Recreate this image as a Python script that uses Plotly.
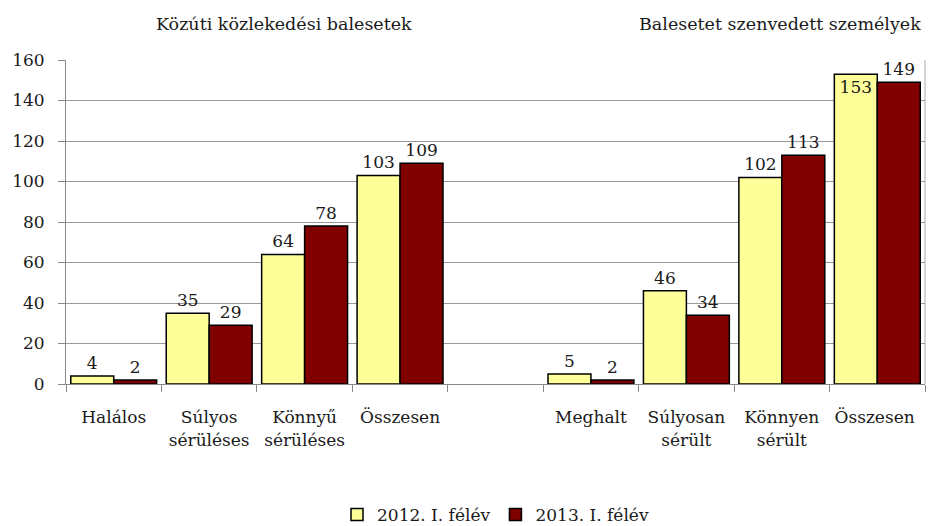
"""
Közúti balesetek, 2012 vs 2013 I. félév
"""
import plotly.graph_objects as go

# category keys must be unique, so the gap and the second "Összesen" differ by spaces
categories = [
    "Halálos", "Súlyos<br>sérüléses", "Könnyű<br>sérüléses", "Összesen",
    " ",
    "Meghalt", "Súlyosan<br>sérült", "Könnyen<br>sérült", "Összesen ",
]
values_2012 = [4, 35, 64, 103, None, 5, 46, 102, 153]
values_2013 = [2, 29, 78, 109, None, 2, 34, 113, 149]
series_names = ["2012. I. félév", "2013. I. félév"]
group_titles = ["Közúti közlekedési balesetek", "Balesetet szenvedett személyek"]

FONT = "DejaVu Serif"
TXT = dict(family=FONT, size=17, color="#1a1a1a")
TITLE = dict(family=FONT, size=17.5, color="#1a1a1a")


def labels(vals):
    return ["" if v is None else str(v) for v in vals]


# 153 sits too close to the top, Excel put it inside the bar
pos_2012 = ["inside" if v == 153 else "outside" for v in values_2012]

fig = go.Figure()
fig.add_trace(go.Bar(
    x=categories, y=values_2012, name=series_names[0],
    marker=dict(color="#FFFF99", line=dict(color="black", width=1.5)),
    text=labels(values_2012), textposition=pos_2012,
    insidetextanchor="end", textfont=TXT, cliponaxis=False,
))
fig.add_trace(go.Bar(
    x=categories, y=values_2013, name=series_names[1],
    marker=dict(color="#800000", line=dict(color="black", width=1.5)),
    text=labels(values_2013), textposition="outside",
    textfont=TXT, cliponaxis=False,
))

# the page body adds an 8px offset, so margins are shifted to compensate
fig.update_layout(
    width=935, height=526,
    margin=dict(l=58, r=18, t=52, b=150, autoexpand=False),
    paper_bgcolor="white", plot_bgcolor="white",
    barmode="group", bargap=0.1, bargroupgap=0,
    font=TXT,
    legend=dict(orientation="h", x=0.5, xanchor="center", y=-0.404, yanchor="middle",
                font=TXT, itemwidth=30),
    annotations=[
        dict(text=group_titles[0], x=0.254, y=1.111, xref="paper", yref="paper",
             xanchor="center", yanchor="middle", showarrow=False, font=TITLE),
        dict(text=group_titles[1], x=0.831, y=1.111, xref="paper", yref="paper",
             xanchor="center", yanchor="middle", showarrow=False, font=TITLE),
    ],
)
fig.update_xaxes(
    type="category", tickson="boundaries", ticks="outside", ticklen=7,
    tickcolor="#888888", showline=True, linecolor="#888888", mirror=False,
    tickfont=TXT, ticklabelstandoff=18, tickangle=0, automargin=False,
)
fig.update_yaxes(
    range=[0, 160], dtick=20, ticks="outside", ticklen=7, tickcolor="#888888",
    showline=True, linecolor="#888888", gridcolor="#999999", gridwidth=1,
    tickfont=TXT, ticklabelstandoff=10, zeroline=False, automargin=False,
)
# right border of the plot area
fig.add_shape(type="line", xref="paper", yref="paper", x0=1, x1=1, y0=0, y1=1,
              line=dict(color="#AAAAAA", width=1))

fig.write_html("out.html")
